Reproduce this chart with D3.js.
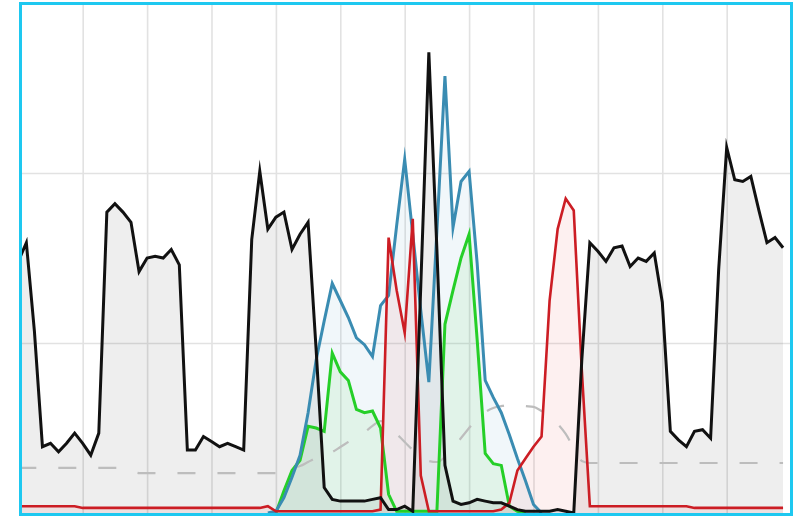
<!DOCTYPE html>
<html><head><meta charset="utf-8">
<script src="https://cdn.jsdelivr.net/npm/d3@7"></script>
<style>html,body{margin:0;padding:0;background:#fff;}svg{display:block;}</style>
</head><body><svg id="chart" width="805" height="517"></svg>
<script>
// ---- data (index 0..95) ----
const blackSeries = [148,159,107,39,41,36,41,47,41,34,
 47,177,182,177,171,142,150,151,150,155,
 146,37,37,45,42,39,41,39,37,161,
 201,167,174,177,155,164,171,96,15,8,
 7,7,7,7,8,9,2,2,4,1,
 134,271,155,28,7,5,6,8,7,6,
 6,4,2,1,1,1,1,2,1,0,
 90,159,154,148,156,157,145,150,148,153,
 124,48,43,39,48,49,44,143,215,196,
 195,198,178,159,162,156];
const blueSeries = [null,null,null,null,null,null,null,null,null,null,
 null,null,null,null,null,null,null,null,null,null,
 null,null,null,null,null,null,null,null,null,null,
 null,0,1,9,21,34,59,90,113,135,
 125,115,103,99,92,122,128,169,208,164,
 119,77,166,257,168,195,201,147,78,68,
 59,46,32,19,5,0,null,null,null,null,
 null,null,null,null,null,null,null,null,null,null,
 null,null,null,null,null,null,null,null,null,null,
 null,null,null,null,null,null];
const greenSeries = [null,null,null,null,null,null,null,null,null,null,
 null,null,null,null,null,null,null,null,null,null,
 null,null,null,null,null,null,null,null,null,null,
 null,null,0,13,25,31,51,50,48,94,
 83,78,61,59,60,50,11,1,1,1,
 1,1,1,111,131,150,164,102,35,29,
 28,4,1,0,null,null,null,null,null,null,
 null,null,null,null,null,null,null,null,null,null,
 null,null,null,null,null,null,null,null,null,null,
 null,null,null,null,null,null];
const redSeries = [4,4,4,4,4,4,4,4,3,3,
 3,3,3,3,3,3,3,3,3,3,
 3,3,3,3,3,3,3,3,3,3,
 3,4,1,1,1,1,1,1,1,1,
 1,1,1,1,1,2,162,131,106,173,
 22,1,1,1,1,1,1,1,1,1,
 2,6,25,32,39,45,125,167,185,178,
 84,4,4,4,4,4,4,4,4,4,
 4,4,4,4,3,3,3,3,3,3,
 3,3,3,3,3,3];
const dashedSeries = [26.5,26.5,26.5,26.5,26.5,26.5,26.5,26.5,26.5,26.5,
 26.5,26.5,26.5,26.5,25,23.5,23.5,23.5,23.5,23.5,
 23.5,23.5,23.5,23.5,23.5,23.5,23.5,23.5,23.5,23.5,
 23.5,23.5,23.5,25,26.5,27.6,30,32.4,34.1,35.9,
 38.8,41.8,44.7,47.6,51.2,54.1,51.2,46.5,41.8,37.1,
 33.5,30.6,30,32.9,38.2,44.1,50,55.9,59.4,61.8,
 62.9,63.5,63.5,62.9,62.4,60,57.1,52.4,46.5,38.2,
 30.6,29.4,29.4,29.4,29.4,29.4,29.4,29.4,29.4,29.4,
 29.4,29.4,29.4,29.4,29.4,29.4,29.4,29.4,29.4,29.4,
 29.4,29.4,29.4,29.4,29.4,29.4];
const xGridTicks = [8,16,24,32,40,48,56,64,72,80,88];
const yGridTicks = [100,200];

// ---- drawing ----
const svg = d3.select("#chart");
const x = d3.scaleLinear().domain([0,96]).range([18.3,791.1]);
const y = d3.scaleLinear().domain([0,300]).range([513,3]);

svg.append("defs").append("clipPath").attr("id","clip")
  .append("rect").attr("x",20).attr("y",3).attr("width",772).attr("height",511);

const grid = svg.append("g");
const gx = grid.append("g").attr("transform","translate(0,514)")
  .call(d3.axisBottom(x).tickValues(xGridTicks).tickSize(-511).tickFormat(""));
const gy = grid.append("g").attr("transform","translate(20,0)")
  .call(d3.axisLeft(y).tickValues(yGridTicks).tickSize(-772).tickFormat(""));
grid.selectAll(".domain").remove();
grid.selectAll("line").attr("stroke","#e2e2e2").attr("stroke-width",1.6);

const plot = svg.append("g").attr("clip-path","url(#clip)");

const series = [
  {data: blackSeries, stroke:"#111111", fill:"rgba(0,0,0,0.065)", w:3},
  {data: blueSeries, stroke:"#3a8cb2", fill:"rgba(58,140,178,0.07)", w:3},
  {data: greenSeries, stroke:"#25cf28", fill:"rgba(37,207,40,0.08)", w:3},
  {data: redSeries, stroke:"#cc1d24", fill:"rgba(220,40,40,0.07)", w:2.6}
];

const area = d3.area().defined(d=>d!==null).x((d,i)=>x(i)).y0(y(0)).y1(d=>y(d));
const line = d3.line().defined(d=>d!==null).x((d,i)=>x(i)).y(d=>y(d));

series.forEach(s=>{
  plot.append("path").datum(s.data).attr("d",area).attr("fill",s.fill).attr("stroke","none");
});

plot.append("path").datum(dashedSeries)
  .attr("d", d3.line().x((d,i)=>x(i)).y(d=>y(d)).curve(d3.curveMonotoneX))
  .attr("fill","none").attr("stroke","#bdbdbd").attr("stroke-width",2.2)
  .attr("stroke-dasharray","18,22");

[series[2], series[1], series[3], series[0]].forEach(s=>{
  plot.append("path").datum(s.data).attr("d",line)
    .attr("fill","none").attr("stroke",s.stroke).attr("stroke-width",s.w)
    .attr("stroke-linejoin","miter").attr("stroke-miterlimit",10);
});

svg.append("rect").attr("x",20.5).attr("y",3.5).attr("width",771).attr("height",511)
  .attr("fill","none").attr("stroke","#1ec8f0").attr("stroke-width",3);
</script></body></html>
